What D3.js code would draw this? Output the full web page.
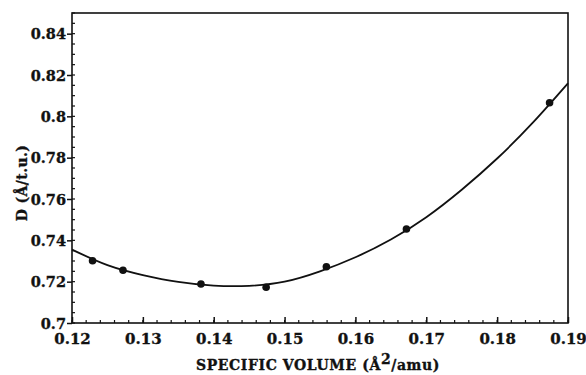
<!DOCTYPE html>
<html>
<head>
<meta charset="utf-8">
<script src="https://cdn.jsdelivr.net/npm/d3@7"></script>
<style>
  body { margin: 0; background: #fff; }
  text { font-family: "DejaVu Serif", "Liberation Serif", serif; font-weight: bold; fill: #111; stroke: #111; stroke-width: 0.35px; }
</style>
</head>
<body>
<div id="chart"></div>
<script>
// measured points
const volume = [0.1229, 0.1272, 0.1382, 0.1474, 0.1559, 0.1672, 0.1874];
const dValue = [0.7301, 0.7255, 0.7189, 0.7173, 0.7272, 0.7455, 0.8066];

// fitted curve
const fitVolume = [0.120, 0.125, 0.130, 0.135, 0.140, 0.145, 0.150, 0.155, 0.160, 0.165, 0.170, 0.175, 0.180, 0.185, 0.190];
const fitD = [0.7355, 0.7280, 0.7232, 0.7199, 0.7181, 0.7180, 0.7200, 0.7250, 0.7318, 0.7404, 0.7512, 0.7645, 0.7796, 0.7968, 0.8160];

const xTicks = [0.12, 0.13, 0.14, 0.15, 0.16, 0.17, 0.18, 0.19];
const yTicks = [0.7, 0.72, 0.74, 0.76, 0.78, 0.8, 0.82, 0.84];

const W = 586, H = 375;
const margin = { top: 13, right: 18, bottom: 52, left: 72 };
const width = W - margin.left - margin.right;
const height = H - margin.top - margin.bottom;

const svg = d3.select("#chart").append("svg")
  .attr("width", W)
  .attr("height", H);

const g = svg.append("g")
  .attr("transform", `translate(${margin.left},${margin.top})`);

const x = d3.scaleLinear().domain([0.12, 0.19]).range([0, width]);
const y = d3.scaleLinear().domain([0.7, 0.85]).range([height, 0]);

// minor ticks (inside)
const xMinor = d3.range(0.12, 0.1901, 0.002);
const yMinor = d3.range(0.7, 0.8501, 0.005);

g.append("g").selectAll("line")
  .data(xMinor)
  .enter().append("line")
  .attr("x1", d => x(d)).attr("x2", d => x(d))
  .attr("y1", height).attr("y2", height - 3)
  .attr("stroke", "#111").attr("stroke-width", 1.2);

g.append("g").selectAll("line")
  .data(yMinor)
  .enter().append("line")
  .attr("x1", 0).attr("x2", 3)
  .attr("y1", d => y(d)).attr("y2", d => y(d))
  .attr("stroke", "#111").attr("stroke-width", 1.2);

// axes
const xAxis = g.append("g")
  .attr("transform", `translate(0,${height})`)
  .call(d3.axisBottom(x).tickValues(xTicks).tickFormat(d3.format("")).tickSizeInner(-6).tickSizeOuter(0).tickPadding(10));

const yAxis = g.append("g")
  .call(d3.axisLeft(y).tickValues(yTicks).tickFormat(d => +d.toFixed(2) + "").tickSizeInner(5).tickSizeOuter(0).tickPadding(1));

[xAxis, yAxis].forEach(a => {
  a.select(".domain").remove();
  a.selectAll(".tick line").attr("stroke", "#111").attr("stroke-width", 1.5);
  a.selectAll(".tick text")
    .style("font-family", "DejaVu Serif, serif")
    .style("font-weight", "bold")
    .style("font-size", "15px")
    .attr("fill", "#111");
});
yAxis.selectAll(".tick text").style("font-size", "14.5px").attr("dy", "0.35em");

// frame
g.append("rect")
  .attr("width", width).attr("height", height)
  .attr("fill", "none")
  .attr("stroke", "#111")
  .attr("stroke-width", 1.6);

// fitted curve
const line = d3.line()
  .x((d, i) => x(fitVolume[i]))
  .y(d => y(d))
  .curve(d3.curveNatural);

g.append("path")
  .datum(fitD)
  .attr("fill", "none")
  .attr("stroke", "#111")
  .attr("stroke-width", 1.8)
  .attr("d", line);

// data points
g.selectAll(".dot")
  .data(dValue)
  .enter().append("circle")
  .attr("class", "dot")
  .attr("cx", (d, i) => x(volume[i]))
  .attr("cy", d => y(d))
  .attr("r", 3.8)
  .attr("fill", "#111");

// axis titles
const xTitle = svg.append("text")
  .attr("x", margin.left + width / 2 - 2)
  .attr("y", 370)
  .attr("text-anchor", "middle")
  .style("font-size", "14px")
  .style("letter-spacing", "0.6px");
xTitle.append("tspan").text("SPECIFIC VOLUME (Å");
xTitle.append("tspan").attr("dy", -6).style("font-size", "14px").text("2");
xTitle.append("tspan").attr("dy", 6).text("/amu)");

svg.append("text")
  .attr("transform", `translate(27,183) rotate(-90)`)
  .attr("text-anchor", "middle")
  .style("font-size", "14px")
  .style("letter-spacing", "0.4px")
  .text("D (Å/t.u.)");
</script>
</body>
</html>
